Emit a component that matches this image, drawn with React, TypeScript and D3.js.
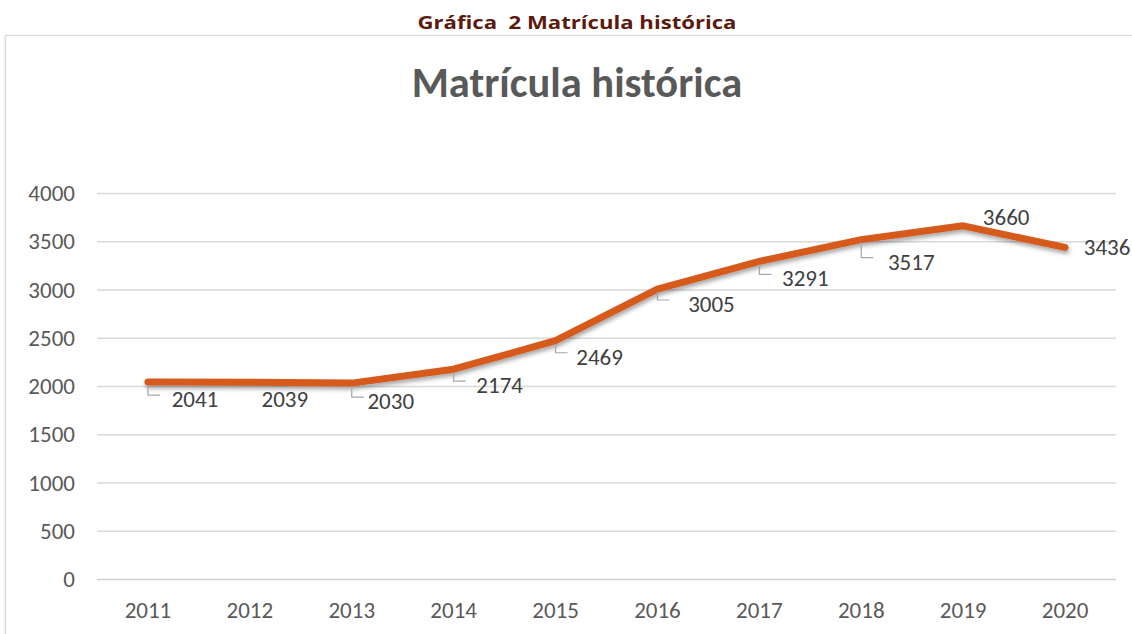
import React from 'react';
import * as d3 from 'd3';

// ————— Data —————
const years = ['2011', '2012', '2013', '2014', '2015', '2016', '2017', '2018', '2019', '2020'];
const enrollment = [2041, 2039, 2030, 2174, 2469, 3005, 3291, 3517, 3660, 3436];
const yTicks = [0, 500, 1000, 1500, 2000, 2500, 3000, 3500, 4000];
// label placement (offset from point, px) and whether a leader line is drawn
const labelDx = [47, 35, 39, 46, 44, 54, 46, 50, 43, 42];
const labelDy = [17, 17, 18, 16, 16, 15, 17, 22, -9, 0];
const hasLeader = [true, false, true, true, true, true, true, true, false, false];
// ————————————————

const W = 1132;
const H = 634;
const FONT = "Carlito, Calibri, 'Liberation Sans', sans-serif";

export default function App() {
  const x = d3.scaleBand<string>().domain(years).range([97, 1116]);
  const y = d3.scaleLinear().domain([0, 4000]).range([579, 193]);
  const cx = (yr: string) => (x(yr) ?? 0) + x.bandwidth() / 2;

  const line = d3.line<number>()
    .x((_, i) => cx(years[i]))
    .y(d => y(d));

  return (
    <div style={{ position: 'fixed', left: 0, top: 0, width: W, height: H, background: '#fff' }}>
      <svg width={W} height={H} style={{ display: 'block' }}>
        <defs>
          <filter id="shadow" x="-10%" y="-10%" width="120%" height="140%">
            <feDropShadow dx="1" dy="3" stdDeviation="2" floodColor="#000" floodOpacity="0.35" />
          </filter>
          <filter id="frameShadow" x="-5%" y="-5%" width="110%" height="110%">
            <feDropShadow dx="0" dy="1" stdDeviation="1" floodColor="#000" floodOpacity="0.15" />
          </filter>
        </defs>

        {/* caption */}
        <text x={577} y={29} textAnchor="middle" fontFamily="'Open Sans', sans-serif"
          fontWeight="bold" fontSize={18.5} fill="#5b1a0c" textLength={319}
          lengthAdjust="spacingAndGlyphs" xmlSpace="preserve">Gráfica  2 Matrícula histórica</text>

        {/* chart frame */}
        <rect x={5.5} y={35.5} width={1140} height={620} fill="#fff" stroke="#d9d9d9"
          strokeWidth={1.2} filter="url(#frameShadow)" />

        {/* title */}
        <text x={577} y={97} textAnchor="middle" fontFamily={FONT} fontWeight="bold"
          fontSize={42.5} fill="#595959">Matrícula histórica</text>

        {/* grid + y ticks */}
        {yTicks.map(t => (
          <g key={t}>
            <line x1={97} x2={1116} y1={y(t) + 0.5} y2={y(t) + 0.5}
              stroke={t === 0 ? '#d0d0d0' : '#d9d9d9'} strokeWidth={1.3} />
            <text x={75} y={y(t)} dy="0.35em" textAnchor="end" fontFamily={FONT}
              fontSize={23} fill="#595959">{t}</text>
          </g>
        ))}

        {/* x ticks */}
        {years.map(yr => (
          <text key={yr} x={cx(yr)} y={610} dy="0.35em" textAnchor="middle"
            fontFamily={FONT} fontSize={23} fill="#595959">{yr}</text>
        ))}

        {/* series line */}
        <path d={line(enrollment) ?? ''} fill="none" stroke="#d55a1c" strokeWidth={7}
          strokeLinejoin="round" strokeLinecap="round" filter="url(#shadow)" />

        {/* leader lines */}
        {enrollment.map((v, i) => hasLeader[i] ? (
          <path key={'l' + i}
            d={`M${cx(years[i])},${y(v) + 3} V${y(v) + labelDy[i] - 4} H${cx(years[i]) + 12}`}
            fill="none" stroke="#a6a6a6" strokeWidth={1.2} />
        ) : null)}

        {/* data labels */}
        {enrollment.map((v, i) => (
          <text key={'t' + i} x={cx(years[i]) + labelDx[i]} y={y(v) + labelDy[i]} dy="0.35em"
            textAnchor="middle" fontFamily={FONT} fontSize={23} fill="#404040">{v}</text>
        ))}
      </svg>
    </div>
  );
}
